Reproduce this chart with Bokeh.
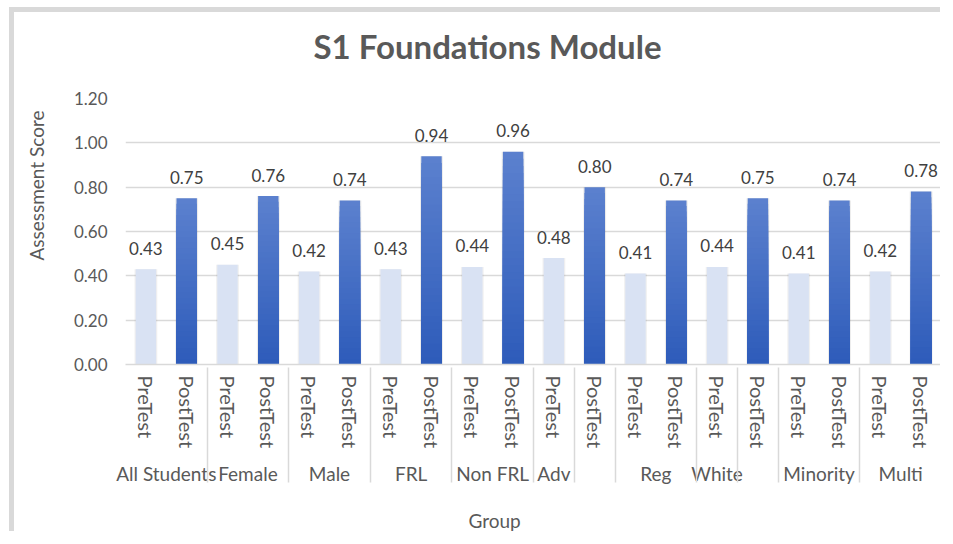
from bokeh.plotting import figure
from bokeh.models import (FactorRange, ColumnDataSource, FixedTicker,
                          NumeralTickFormatter, Title)
from bokeh.embed import file_html
from bokeh.resources import INLINE
from bokeh.core.properties import value

# ---- data ----
pre_groups = ["All Students", "Female", "Male", "FRL", "Non FRL", "Adv", "Reg", "White", "Minority", "Multi"]
post_groups = ["All Students", "Female", "Male", "FRL", "Non FRL", " ", "Reg", "  ", "Minority", "Multi"]
pre_scores = [0.43, 0.45, 0.42, 0.43, 0.44, 0.48, 0.41, 0.44, 0.41, 0.42]
post_scores = [0.75, 0.76, 0.74, 0.94, 0.96, 0.80, 0.74, 0.75, 0.74, 0.78]
y_ticks = [0.0, 0.2, 0.4, 0.6, 0.8, 1.0, 1.2]

FONT = "Lato"
TXT = "#595959"

pre_x = [(g, "PreTest") for g in pre_groups]
post_x = [(g, "PostTest") for g in post_groups]
factors = []
for a, b in zip(pre_x, post_x):
    factors += [a, b]

x_range = FactorRange(*factors, group_padding=0, factor_padding=0, range_padding=0)

p = figure(x_range=x_range, y_range=(0, 1.2), width=931, height=524,
           output_backend="svg", toolbar_location=None,
           min_border_left=111, min_border_right=4, min_border_top=86,
           min_border_bottom=171)
p.styles = {"margin-left": "9px", "margin-top": "7px",
            "border-left": "5px solid #d9d9d9", "border-top": "5px solid #d9d9d9"}
p.outline_line_color = None
p.background_fill_color = "white"
p.border_fill_color = "white"

p.title = Title(text="S1 Foundations Module", align="left", offset=188,
                text_font=FONT, text_font_size="33px", text_font_style="bold",
                text_color=TXT, standoff=10)
# spacer between title and frame
p.add_layout(Title(text=" ", text_font_size="1px", standoff=25), "above")

pre_src = ColumnDataSource(dict(x=pre_x, y=pre_scores, t=["%.2f" % v for v in pre_scores]))
post_src = ColumnDataSource(dict(x=post_x, y=post_scores, t=["%.2f" % v for v in post_scores]))

# soft shadow
p.vbar(x="x", top="y", width=0.56, source=pre_src, fill_color="black", fill_alpha=0.06, line_color=None)
p.vbar(x="x", top="y", width=0.56, source=post_src, fill_color="black", fill_alpha=0.08, line_color=None)

# pre bars
p.vbar(x="x", top="y", width=0.5, source=pre_src, fill_color="#d9e2f3", line_color=None)

# post bars with vertical gradient (light top -> dark bottom)
top_c = (0x5b, 0x80, 0xce)
bot_c = (0x2e, 0x5c, 0xba)
N = 30
for k in range(N):
    f = 1 - k / N
    t = k / (N - 1)
    c = tuple(round(top_c[i] + (bot_c[i] - top_c[i]) * t) for i in range(3))
    col = "#%02x%02x%02x" % c
    p.vbar(x=post_x, top=[v * f for v in post_scores], width=0.5,
           fill_color=col, line_color=None)

# data labels
for src in (pre_src, post_src):
    p.text(x="x", y="y", text="t", source=src, text_font=value(FONT),
           text_font_size="17px", text_color="#404040", text_align="center",
           text_baseline="alphabetic", y_offset=-21)

# y axis
p.yaxis.ticker = FixedTicker(ticks=y_ticks)
p.yaxis.formatter = NumeralTickFormatter(format="0.00")
p.yaxis.major_label_text_font = FONT
p.yaxis.major_label_text_font_size = "17px"
p.yaxis.major_label_text_color = TXT
p.yaxis.axis_line_color = None
p.yaxis.major_tick_line_color = None
p.yaxis.minor_tick_line_color = None
p.yaxis.major_tick_out = 0
p.yaxis.major_label_standoff = 18

p.ygrid.grid_line_color = "#d9d9d9"
p.ygrid.grid_line_width = 1.5
p.xgrid.grid_line_color = None

# x axis
xa = p.xaxis[0]
xa.major_label_orientation = "vertical"
xa.group_label_orientation = "horizontal"
xa.major_label_text_font = FONT
xa.major_label_text_font_size = "20px"
xa.major_label_text_color = TXT
xa.group_text_font = FONT
xa.group_text_font_size = "19px"
xa.group_text_color = TXT
xa.group_text_font_style = "normal"
xa.axis_line_color = "#d9d9d9"
xa.axis_line_width = 1.5
xa.major_tick_line_color = None
xa.major_tick_out = 0
xa.major_label_standoff = 11
xa.separator_line_color = "#d9d9d9"
xa.separator_line_width = 1.5

# y axis title (with spacer panel between axis and title)
p.add_layout(Title(text=" ", text_font_size="1px", standoff=15), "left")
p.add_layout(Title(text="Assessment Score", align="right", offset=12,
                   text_font=FONT, text_font_size="19px", text_font_style="normal",
                   text_color=TXT), "left")
# x axis title (with spacer)
p.add_layout(Title(text=" ", text_font_size="1px", standoff=10), "below")
p.add_layout(Title(text="Group", align="left", offset=343,
                   text_font=FONT, text_font_size="19px", text_font_style="normal",
                   text_color=TXT), "below")

open("out.html", "w").write(file_html(p, INLINE))
